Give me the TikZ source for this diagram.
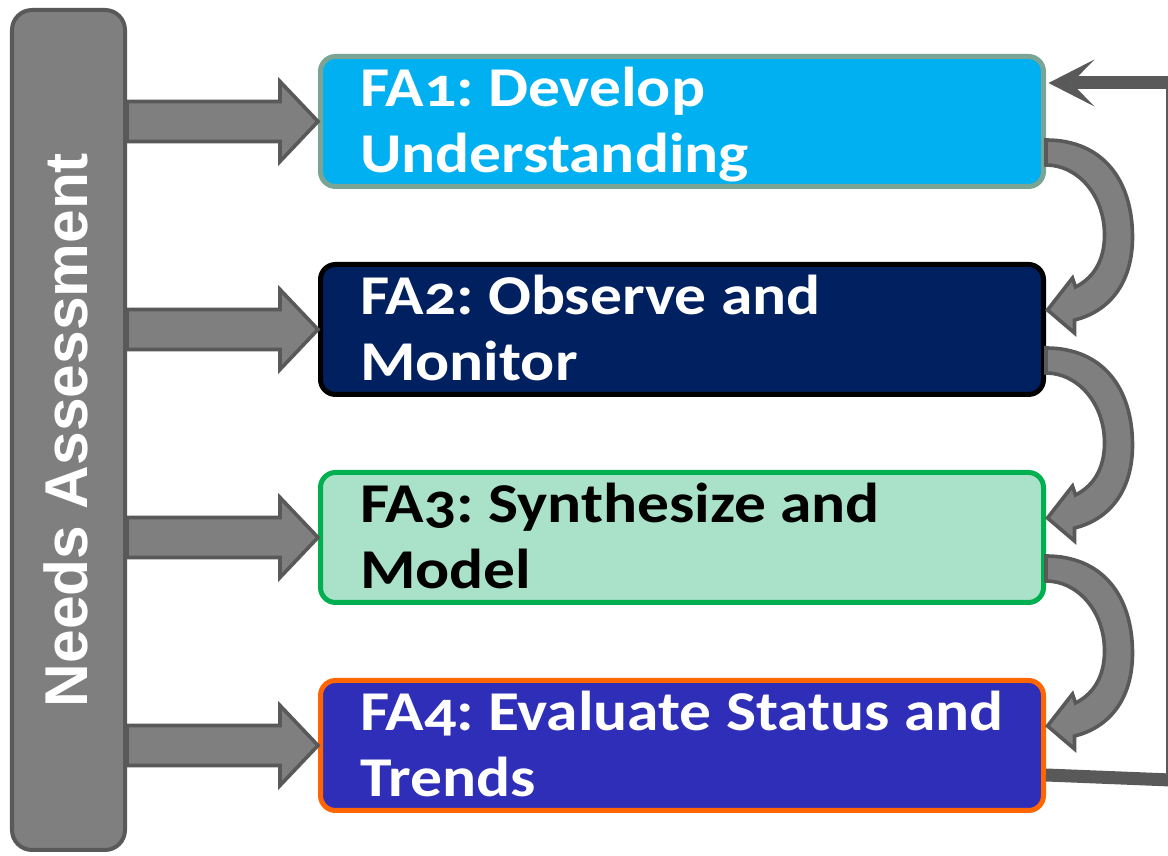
\documentclass[tikz,border=0pt]{standalone}
\usepackage{fontspec}
\usetikzlibrary{positioning,calc,arrows.meta}
\newfontfamily\fafont[Numbers=OldStyle, FakeStretch=1.13]{Carlito}
\newfontfamily\nafont{Liberation Sans}
\definecolor{faskyblue}{HTML}{00B0F0}
\definecolor{fasage}{HTML}{7AA595}
\definecolor{fanavy}{HTML}{002060}
\definecolor{famint}{HTML}{A9E2C9}
\definecolor{fagreen}{HTML}{00B050}
\definecolor{faindigo}{HTML}{2E2EB8}
\definecolor{faorange}{HTML}{FF6600}
\definecolor{arrowfill}{HTML}{7F7F7F}
\definecolor{arrowline}{HTML}{595959}
\newcommand{\fatext}[2]{\spaceskip=0pt\xspaceskip=0pt
  \mbox{\rule{0pt}{34pt}#1}\\\mbox{#2\rule[-8pt]{0pt}{8pt}}}
\tikzset{
  fabox/.style={draw, rounded corners=0.375cm, line width=0.125cm,
    minimum width=18.075cm, minimum height=3.25cm, text width=16.1cm,
    align=left, inner xsep=0.9cm, inner ysep=0pt, text=white,
    font=\fafont\bfseries\fontsize{40}{47}\selectfont\frenchspacing},
  nabar/.style={draw=arrowline, fill=arrowfill, line width=0.1cm,
    rounded corners=0.5cm, minimum width=2.825cm, minimum height=21cm},
  blockarrow/.style={draw=arrowline, fill=arrowfill, line width=0.09cm},
  fbline/.style={draw=arrowline, line width=0.325cm},
  fbthin/.style={draw=arrowline, line width=0.1cm}
}

\begin{document}
\begin{tikzpicture}[node distance=1.825cm]
    \useasboundingbox (0,0) rectangle (29.2,21.4);
    \node[nabar] (na) at (1.7125,10.65) {};
    \node[rotate=90, text=white, font=\nafont\bfseries\fontsize{43}{50}\selectfont]
        (natxt) at ($(na.center)+(-0.075,0)$) {Needs Assessment};
    \node[fabox, fill=faskyblue, draw=fasage] (fa1) at (17.05,18.3625)
        {\fatext{FA1: Develop}{Understanding}};
    \node[fabox, fill=fanavy, draw=black, below=of fa1] (fa2)
        {\fatext{FA2: Observe and}{Monitor}};
    \node[fabox, fill=famint, draw=fagreen, text=black, below=of fa2] (fa3)
        {\fatext{FA3: Synthesize and}{Model}};
    \node[fabox, fill=faindigo, draw=faorange, below=of fa3] (fa4)
        {\fatext{FA4: Evaluate Status and}{Trends}};
    \foreach \fa in {fa1,fa2,fa3,fa4}{
        \coordinate (s) at (na.east |- \fa.west);
        \draw[blockarrow] (s) ++(0,0.5) -| ($(\fa.west)+(-0.95,1)$) -- (\fa.west)
            -- ++(-0.95,-1) |- ($(s)+(0,-0.5)$) -- cycle;
    }
    \foreach \fa in {fa1,fa2,fa3}{
        \draw[blockarrow, shift={(\fa.east)}] (0,-0.4625)
            .. controls (1.4125,-0.4625) and (2.1625,-1.4625) .. (2.1625,-2.8875)
            .. controls (2.1625,-4.0875) and (1.5375,-4.7625) .. (0.7125,-4.9625)
            -- (0.7125,-5.2875) -- (0.0375,-4.7125) -- (0.6625,-3.9125) -- (0.7375,-4.1375)
            .. controls (1.2375,-3.8875) and (1.4625,-3.4125) .. (1.4625,-2.8375)
            .. controls (1.4625,-1.8375) and (0.7875,-1.0875) .. (0,-1.0875) -- cycle;
    }
    \draw[fbline] ($(fa4.east)+(0,-0.7375)$) -- ($(fa4.east)+(3.1125,-0.8625)$);
    \draw[fbthin] ($(fa4.east)+(3.0375,-0.9)$) -- ($(fa1.east)+(3.0375,1.12)$);
    \draw[fbline, -{Stealth[length=1.15cm, width=1.175cm, inset=0.575cm, line width=0pt]}]
        ($(fa1.east)+(3.1125,0.9625)$) -- ($(fa1.east)+(0.0625,0.9625)$);
\end{tikzpicture}
\end{document}
